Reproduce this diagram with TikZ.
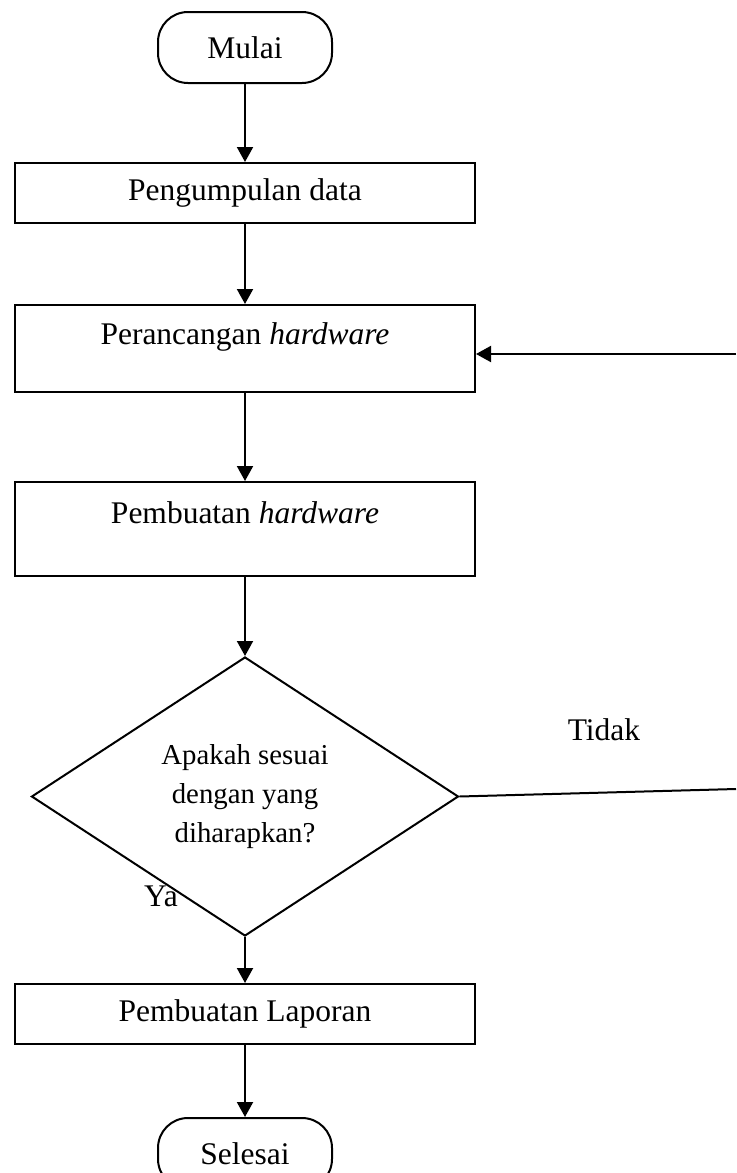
\documentclass[tikz,border=0pt]{standalone}
\usepackage{fontspec}
\setmainfont{Liberation Serif}
\usetikzlibrary{shapes.geometric, arrows.meta, positioning}

\begin{document}
\begin{tikzpicture}[x=0.5pt, y=-0.5pt, node distance=39pt, line width=1pt,
        >={Triangle[length=7.5pt, width=8pt]},
        proses/.style={rectangle, draw, minimum width=230pt, inner sep=0pt, font=\fontsize{15.75pt}{18pt}\selectfont},
        terminal/.style={rectangle, draw, rounded corners=15pt, minimum width=87pt, minimum height=35.5pt, inner sep=0pt, font=\fontsize{15.75pt}{18pt}\selectfont},
        keputusan/.style={diamond, draw, minimum width=213.5pt, minimum height=139.5pt, inner sep=0pt, align=center, font=\fontsize{14.4pt}{19.5pt}\selectfont},
        ket/.style={font=\fontsize{15.75pt}{18pt}\selectfont}]
        \useasboundingbox (0,0) rectangle (736,1173);

        \node[terminal] (start) at (245,47.5) {Mulai};
        \node[proses, minimum height=30pt, below=of start] (collect) {Pengumpulan data};
        \node[proses, text height=19.5pt, text depth=24pt, below=40pt of collect] (design) {Perancangan \textit{hardware}};
        \node[proses, text height=20.5pt, text depth=26.5pt, below=44pt of design] (build) {Pembuatan \textit{hardware}};
        \node[keputusan, below=39.5pt of build] (check) {Apakah sesuai\\dengan yang\\diharapkan?};
        \node[proses, minimum height=30pt, below=23pt of check] (report) {Pembuatan Laporan};
        \node[terminal, below=36pt of report] (finish) {Selesai};

        \node[ket] (tidak) at (604,730) {Tidak};
        \node[ket] (ya) at (161,896) {Ya};
        \coordinate (back1) at (736,789);
        \coordinate (back2) at (736,354);

        \draw[->] (start) -- (collect);
        \draw[->] (collect) -- (design);
        \draw[->] (design) -- (build);
        \draw[->] (build) -- (check);
        \draw[->] (check) -- (report);
        \draw[->] (report) -- (finish);
        \draw (check.east) -- (back1);
        \draw[->] (back2) -- (back2 -| design.east);
    \end{tikzpicture}
\end{document}
